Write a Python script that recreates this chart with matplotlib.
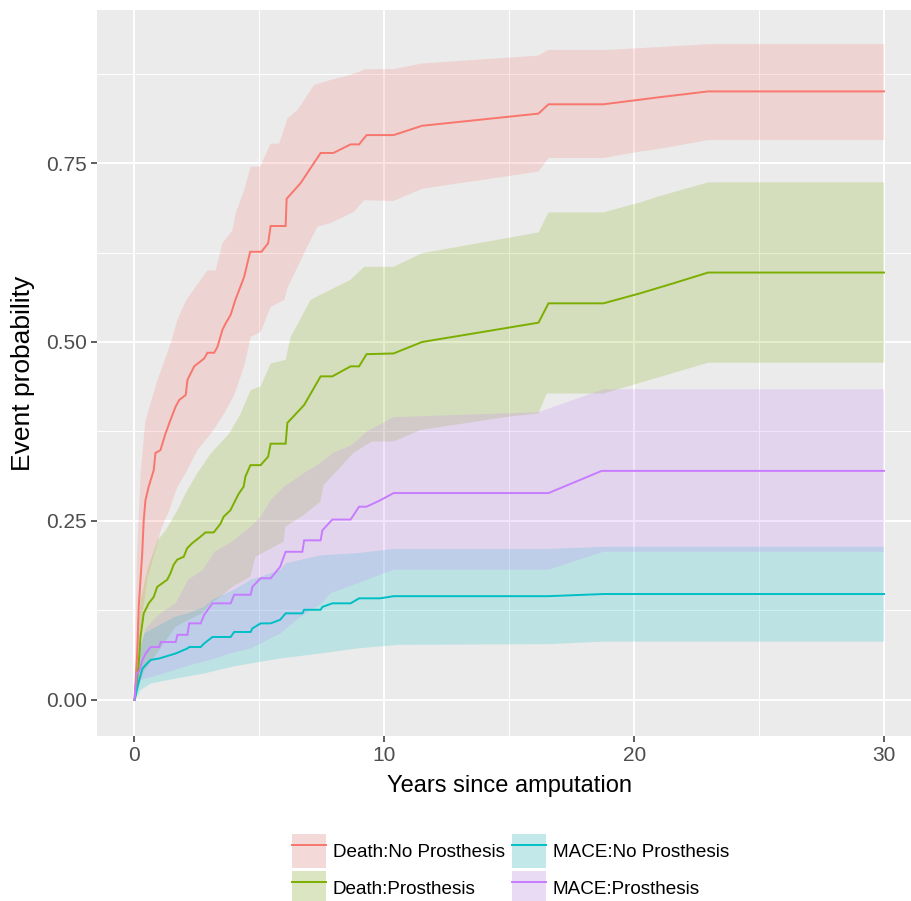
import matplotlib
matplotlib.use('Agg')
import matplotlib.pyplot as plt
import matplotlib.colors as mcolors
from matplotlib.patches import Patch
from matplotlib.lines import Line2D
import numpy as np

plt.rcParams['font.family'] = ['Liberation Sans', 'DejaVu Sans']

# groups (ggplot hue palette order)
groups = ['Death:No Prosthesis', 'Death:Prosthesis', 'MACE:No Prosthesis', 'MACE:Prosthesis']
colors = ['#F8766D', '#7CAE00', '#00BFC4', '#C77CFF']

# cumulative incidence curves (years, probability)
death_np_x = [0, 0.11, 0.17, 0.31, 0.37, 0.44, 0.57, 0.77, 0.84, 1.04, 1.24, 1.44, 1.65, 1.79, 2.05, 2.12,
              2.39, 2.79, 2.92, 3.19, 3.32, 3.52, 3.65, 3.85, 4.04, 4.39, 4.63, 5.08, 5.35, 5.45, 6.05, 6.09,
              6.65, 7.45, 7.96, 8.65, 8.99, 9.29, 10.37, 11.51, 16.17, 16.57, 18.77, 21.04, 22.96, 30]
death_np_y = [0, 0.065, 0.13, 0.205, 0.251, 0.279, 0.298, 0.321, 0.345, 0.349, 0.372, 0.391, 0.410, 0.419,
              0.426, 0.447, 0.466, 0.477, 0.485, 0.485, 0.493, 0.517, 0.526, 0.538, 0.559, 0.591, 0.626, 0.626,
              0.638, 0.662, 0.662, 0.700, 0.722, 0.764, 0.764, 0.776, 0.776, 0.789, 0.789, 0.802, 0.819, 0.832,
              0.832, 0.842, 0.850, 0.850]

death_p_x = [0, 0.04, 0.17, 0.24, 0.37, 0.57, 0.77, 0.91, 1.11, 1.31, 1.44, 1.57, 1.71, 1.97, 2.11, 2.31,
             2.64, 2.84, 3.17, 3.44, 3.57, 3.84, 4.04, 4.17, 4.37, 4.44, 4.64, 5.05, 5.35, 5.45, 6.05, 6.12,
             6.79, 7.45, 7.92, 8.65, 8.99, 9.29, 10.37, 11.51, 16.17, 16.57, 18.77, 20.24, 21.57, 22.96, 30]
death_p_y = [0, 0.005, 0.051, 0.088, 0.121, 0.135, 0.144, 0.158, 0.163, 0.168, 0.177, 0.189, 0.196, 0.200,
             0.212, 0.219, 0.228, 0.234, 0.234, 0.246, 0.256, 0.265, 0.279, 0.288, 0.298, 0.312, 0.328, 0.328,
             0.340, 0.358, 0.358, 0.387, 0.412, 0.452, 0.452, 0.466, 0.466, 0.483, 0.484, 0.500, 0.527, 0.554,
             0.554, 0.568, 0.582, 0.597, 0.597]

mace_np_x = [0, 0.19, 0.32, 0.45, 0.65, 0.99, 1.65, 2.12, 2.19, 2.65, 2.79, 3.12, 3.85, 3.99, 4.65, 4.72,
             5.05, 5.45, 5.83, 6.05, 6.72, 6.79, 7.45, 7.52, 7.92, 8.65, 8.99, 9.84, 10.37, 16.57, 18.77, 30]
mace_np_y = [0, 0.028, 0.044, 0.049, 0.056, 0.058, 0.065, 0.072, 0.074, 0.074, 0.079, 0.088, 0.088, 0.095,
             0.095, 0.100, 0.107, 0.107, 0.112, 0.121, 0.121, 0.126, 0.126, 0.130, 0.135, 0.135, 0.142, 0.142,
             0.145, 0.145, 0.148, 0.148]

mace_p_x = [0, 0.09, 0.19, 0.32, 0.45, 0.65, 0.99, 1.05, 1.65, 1.72, 2.12, 2.19, 2.65, 2.79, 3.12, 3.85,
            3.99, 4.65, 4.72, 5.05, 5.45, 5.83, 6.05, 6.72, 6.79, 7.45, 7.52, 7.92, 8.65, 8.99, 9.29, 9.84,
            10.37, 16.57, 18.7, 30]
mace_p_y = [0, 0.037, 0.040, 0.056, 0.065, 0.074, 0.074, 0.081, 0.081, 0.091, 0.091, 0.107, 0.107, 0.119,
            0.135, 0.135, 0.147, 0.147, 0.158, 0.170, 0.170, 0.186, 0.207, 0.207, 0.223, 0.223, 0.237, 0.252,
            0.252, 0.270, 0.270, 0.279, 0.289, 0.289, 0.320, 0.320]

# confidence bands
death_np_up_x = [0, 0.1, 0.25, 0.44, 0.92, 1.45, 1.72, 2.08, 2.92, 3.25, 3.52, 3.92, 4.05, 4.39, 4.65, 5.03,
                 5.45, 5.79, 6.12, 6.52, 7.19, 7.85, 8.65, 9.25, 10.37, 11.51, 16.17, 16.57, 18.97, 21.04,
                 22.96, 30]
death_np_up_y = [0, 0.20, 0.32, 0.39, 0.447, 0.498, 0.531, 0.559, 0.60, 0.60, 0.638, 0.656, 0.680, 0.712,
                 0.745, 0.745, 0.777, 0.777, 0.812, 0.824, 0.859, 0.866, 0.873, 0.881, 0.881, 0.889, 0.900,
                 0.908, 0.908, 0.912, 0.916, 0.916]
death_np_lo_x = [0, 0.1, 0.32, 0.52, 0.85, 1.05, 1.39, 1.72, 2.05, 2.52, 3.12, 3.59, 3.99, 4.39, 4.65, 5.05,
                 5.45, 6.0, 6.12, 6.79, 7.32, 7.85, 8.79, 9.19, 10.37, 11.51, 16.17, 16.57, 18.77, 20.24,
                 21.04, 22.96, 30]
death_np_lo_y = [0, 0.05, 0.12, 0.17, 0.21, 0.237, 0.265, 0.298, 0.317, 0.349, 0.375, 0.400, 0.426, 0.466,
                 0.507, 0.514, 0.549, 0.559, 0.575, 0.624, 0.661, 0.666, 0.682, 0.698, 0.697, 0.714, 0.738,
                 0.757, 0.757, 0.766, 0.770, 0.782, 0.782]

death_p_up_x = [0, 0.1, 0.25, 0.52, 0.92, 1.25, 1.72, 2.05, 2.52, 3.05, 3.79, 4.25, 4.65, 5.05, 5.45, 6.05,
                6.25, 7.05, 7.85, 8.65, 9.19, 10.37, 11.51, 16.17, 16.57, 18.77, 20.24, 21.04, 22.96, 30]
death_p_up_y = [0, 0.08, 0.14, 0.182, 0.223, 0.237, 0.265, 0.289, 0.317, 0.344, 0.372, 0.400, 0.433, 0.438,
                0.470, 0.475, 0.507, 0.559, 0.573, 0.587, 0.605, 0.605, 0.624, 0.653, 0.681, 0.681, 0.695,
                0.704, 0.723, 0.723]
death_p_lo_x = [0, 0.37, 1.0, 1.64, 2.17, 2.71, 3.04, 3.44, 3.91, 4.64, 4.84, 5.97, 6.04, 6.77, 7.44, 7.57,
                8.77, 9.5, 10.37, 11.44, 15.04, 16.17, 16.5, 18.77, 20.24, 22.96, 30]
death_p_lo_y = [0, 0.04, 0.07, 0.102, 0.112, 0.121, 0.135, 0.144, 0.158, 0.172, 0.200, 0.221, 0.242, 0.258,
                0.277, 0.300, 0.345, 0.361, 0.361, 0.377, 0.396, 0.400, 0.428, 0.428, 0.443, 0.471, 0.471]

mace_np_up_x = [0, 0.15, 0.39, 0.65, 1.59, 2.12, 2.79, 3.12, 3.99, 4.65, 5.05, 5.84, 6.05, 7.45, 8.92,
                10.37, 16.57, 18.77, 30]
mace_np_up_y = [0, 0.06, 0.093, 0.098, 0.116, 0.121, 0.130, 0.140, 0.154, 0.168, 0.172, 0.182, 0.191,
                0.202, 0.205, 0.211, 0.211, 0.214, 0.214]
mace_np_lo_x = [0, 0.25, 0.65, 1.65, 2.79, 3.99, 4.65, 5.84, 7.45, 8.92, 10.52, 16.57, 18.77, 30]
mace_np_lo_y = [0, 0.014, 0.023, 0.030, 0.037, 0.047, 0.051, 0.058, 0.065, 0.072, 0.077, 0.078, 0.0815, 0.0815]

mace_p_up_x = [0, 0.2, 0.45, 1.0, 1.65, 2.15, 2.75, 3.2, 3.9, 4.65, 5.05, 5.45, 5.99, 6.79, 7.45, 7.95,
               8.7, 9.3, 10.37, 16.17, 18.77, 30]
mace_p_up_y = [0, 0.07, 0.10, 0.12, 0.135, 0.168, 0.182, 0.207, 0.221, 0.242, 0.256, 0.279, 0.298, 0.317,
               0.331, 0.345, 0.356, 0.375, 0.395, 0.402, 0.434, 0.434]
mace_p_lo_x = [0, 0.24, 1.17, 2.24, 3.04, 3.84, 4.64, 5.84, 6.6, 7.5, 7.84, 8.7, 9.84, 10.37, 16.57, 18.77, 30]
mace_p_lo_y = [0, 0.028, 0.037, 0.049, 0.056, 0.065, 0.072, 0.093, 0.115, 0.135, 0.149, 0.16, 0.175, 0.182,
               0.182, 0.207, 0.207]

lines = [(death_np_x, death_np_y), (death_p_x, death_p_y), (mace_np_x, mace_np_y), (mace_p_x, mace_p_y)]
bands = [(death_np_lo_x, death_np_lo_y, death_np_up_x, death_np_up_y),
         (death_p_lo_x, death_p_lo_y, death_p_up_x, death_p_up_y),
         (mace_np_lo_x, mace_np_lo_y, mace_np_up_x, mace_np_up_y),
         (mace_p_lo_x, mace_p_lo_y, mace_p_up_x, mace_p_up_y)]

fig = plt.figure(figsize=(9.12, 9.01), dpi=100)
ax = fig.add_axes([97 / 912, 1 - 736 / 901, 824.5 / 912, 726 / 901])
ax.set_facecolor('#EBEBEB')

# ribbons first, then lines
for (lx, ly, ux, uy), c in zip(bands, colors):
    px = np.concatenate([lx, ux[::-1]])
    py = np.concatenate([ly, uy[::-1]])
    ax.fill(px, py, color=c, alpha=0.2, lw=0)
for (x, y), c in zip(lines, colors):
    ax.plot(x, y, color=c, lw=1.4, solid_joinstyle='miter')

ax.set_xlim(-1.5, 31.5)
ax.set_ylim(-0.0503, 0.9637)
ax.set_xticks([0, 10, 20, 30])
ax.set_xticks([5, 15, 25], minor=True)
ax.set_yticks([0, 0.25, 0.5, 0.75])
ax.set_yticklabels(['0.00', '0.25', '0.50', '0.75'])
ax.set_yticks([0.125, 0.375, 0.625, 0.875], minor=True)
ax.grid(which='major', color='white', lw=1.4)
ax.grid(which='minor', color='white', lw=0.7)
ax.set_axisbelow(True)
for s in ax.spines.values():
    s.set_visible(False)
ax.tick_params(which='major', length=4.3, width=1.1, color='#333333', labelcolor='#4D4D4D',
               labelsize=15, pad=3)
ax.tick_params(which='minor', length=0)

ax.set_xlabel('Years since amputation', fontsize=17, labelpad=7)
ax.set_ylabel('Event probability', fontsize=19, labelpad=8)

# legend: keys are light filled squares with the line across
def blend(c, a=0.2, bg=(0.95, 0.95, 0.95)):
    r = mcolors.to_rgb(c)
    return tuple(bg[i] + a * (r[i] - bg[i]) for i in range(3))

handles = [(Patch(facecolor=blend(c), edgecolor='none'), Line2D([], [], color=c, lw=1.4)) for c in colors]
fig.legend(handles, groups, loc='upper left', bbox_to_anchor=(292 / 912, 1 - 834 / 901), ncol=2,
           frameon=False, fontsize=13.6, handlelength=1.8, handleheight=2.39, handletextpad=0.37,
           columnspacing=0.37, labelspacing=0.16, borderpad=0, borderaxespad=0)

fig.savefig('out.png', dpi=100)
